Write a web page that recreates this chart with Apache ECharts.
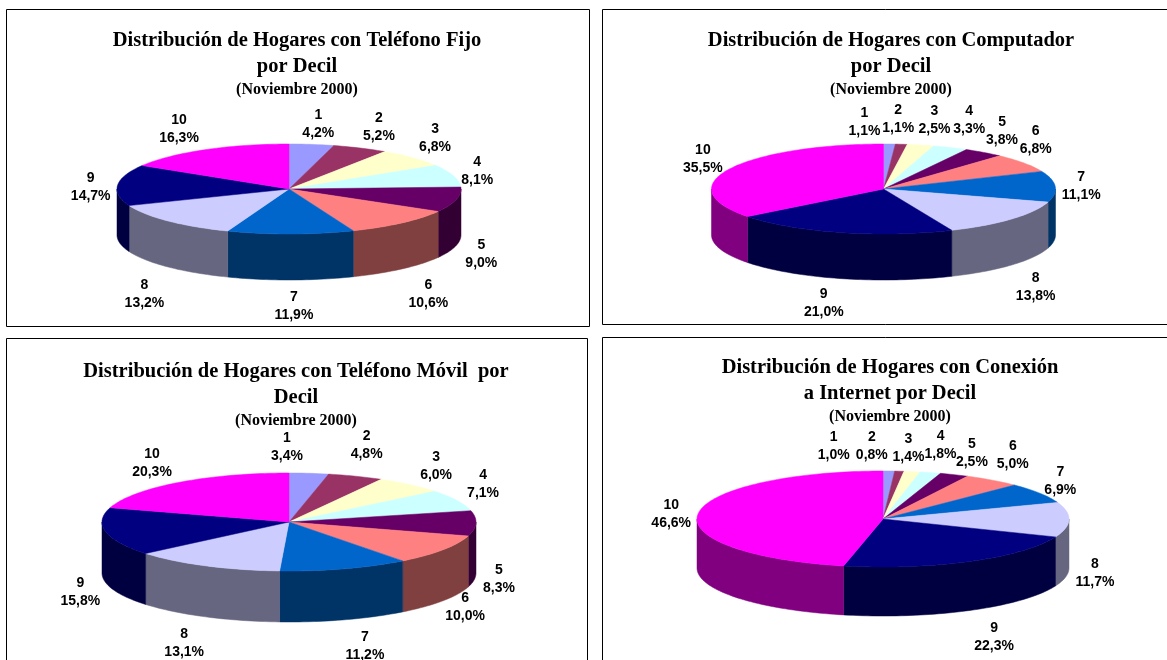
<!DOCTYPE html>
<html>
<head>
<meta charset="utf-8">
<title>Distribución de Hogares por Decil</title>
<script src="https://cdn.jsdelivr.net/npm/echarts@6/dist/echarts.min.js"></script>
<style>
  html, body { margin: 0; padding: 0; background: #fff; }
  #chart { width: 1167px; height: 660px; }
</style>
</head>
<body>
<div id="chart"></div>
<script>
const deciles = ['1', '2', '3', '4', '5', '6', '7', '8', '9', '10'];

const telefonoFijo = [4.2, 5.2, 6.8, 8.1, 9.0, 10.6, 11.9, 13.2, 14.7, 16.3];
const computador = [1.1, 1.1, 2.5, 3.3, 3.8, 6.8, 11.1, 13.8, 21.0, 35.5];
const telefonoMovil = [3.4, 4.8, 6.0, 7.1, 8.3, 10.0, 11.2, 13.1, 15.8, 20.3];
const internet = [1.0, 0.8, 1.4, 1.8, 2.5, 5.0, 6.9, 11.7, 22.3, 46.6];

const topColors = ['#9999FF', '#993366', '#FFFFCC', '#CCFFFF', '#660066', '#FF8080', '#0066CC', '#CCCCFF', '#000080', '#FF00FF'];
const sideColors = ['#4C4C80', '#4C1933', '#808066', '#668080', '#330033', '#804040', '#003366', '#666680', '#000040', '#800080'];

const subtitle = '(Noviembre 2000)';

// box = panel frame, pie = centre / radii / wall height, nudge = hand placement of labels
const panels = [
  {
    title: 'Distribución de Hogares con Teléfono Fijo\npor Decil',
    values: telefonoFijo,
    box: [6.5, 9.5, 583, 317],
    titleAt: [297, 28],
    pie: { cx: 289, cy: 189, rx: 172, ry: 45, depth: 46 },
    nudge: [[3, 9], [7, 6], [2, 1], [-3, 4], [-2, 1], [8, 3], [3, -4], [-4, 6], [1, 4], [-12, 6]]
  },
  {
    title: 'Distribución de Hogares con Computador\npor Decil',
    values: computador,
    box: [602.5, 9.5, 570, 315],
    titleAt: [891, 28],
    pie: { cx: 883.5, cy: 189, rx: 172, ry: 45, depth: 46 },
    nudge: [[-26, 8], [-6, 5], [8, 4], [8, 0], [2, 3], [-11, -6], [-2, 1], [3, 2], [-10, -5], [-1, 3]]
  },
  {
    title: 'Distribución de Hogares con Teléfono Móvil  por\nDecil',
    values: telefonoMovil,
    box: [6.5, 338.5, 581, 340],
    titleAt: [296, 359],
    pie: { cx: 289, cy: 522, rx: 187, ry: 49, depth: 51 },
    nudge: [[-25, 4], [1, -3], [8, 4], [1, -3], [-5, 4], [-1, -11], [12, -2], [-9, -1], [2, 3], [-9, 5]]
  },
  {
    title: 'Distribución de Hogares con Conexión\na Internet por Decil',
    values: internet,
    box: [602.5, 337.5, 570, 340],
    titleAt: [890, 355],
    pie: { cx: 883, cy: 519, rx: 186, ry: 48, depth: 49 },
    nudge: [[-56, 5], [-30, 5], [-8, 6], [3, 2], [7, 6], [4, -1], [-3, 4], [-2, 4], [11, 0], [1, 3]]
  }
];

function rimPoint(pie, deg, drop) {
  const a = deg * Math.PI / 180;
  return [pie.cx + pie.rx * Math.sin(a), pie.cy - pie.ry * Math.cos(a) + (drop || 0)];
}

function arcPoints(pie, from, to, drop) {
  const pts = [];
  const steps = Math.max(2, Math.ceil((to - from) / 1.5));
  for (let i = 0; i <= steps; i++) {
    pts.push(rimPoint(pie, from + (to - from) * i / steps, drop));
  }
  return pts;
}

function pieSeries(panel) {
  const pie = panel.pie;
  const total = panel.values.reduce((s, v) => s + v, 0);
  let run = 0;
  const starts = panel.values.map(v => {
    const s = run;
    run += v;
    return s;
  });

  return {
    type: 'custom',
    coordinateSystem: 'none',
    silent: true,
    animation: false,
    data: panel.values.map((v, i) => ({ name: deciles[i], value: [v, starts[i]] })),
    renderItem(params, api) {
      const i = params.dataIndex;
      const from = api.value(1) / total * 360;
      const to = from + api.value(0) / total * 360;
      const mid = (from + to) / 2;
      const children = [];

      // only the front half of the rim shows a wall
      const wallFrom = Math.max(from, 90);
      const wallTo = Math.min(to, 270);
      if (wallTo > wallFrom) {
        const upper = arcPoints(pie, wallFrom, wallTo, 0);
        const lower = arcPoints(pie, wallFrom, wallTo, pie.depth).reverse();
        children.push({
          type: 'polygon',
          z2: 1,
          shape: { points: upper.concat(lower) },
          style: { fill: sideColors[i], stroke: sideColors[i], lineWidth: 0.5 }
        });
      }

      children.push({
        type: 'polygon',
        z2: 2,
        shape: { points: [[pie.cx, pie.cy]].concat(arcPoints(pie, from, to, 0)) },
        style: { fill: topColors[i], stroke: topColors[i], lineWidth: 0.5 }
      });

      const a = mid * Math.PI / 180;
      const below = Math.cos(a) < 0 ? pie.depth : 0;
      children.push({
        type: 'text',
        z2: 3,
        style: {
          text: deciles[i] + '\n' + api.value(0).toFixed(1).replace('.', ',') + '%',
          x: pie.cx + (pie.rx + 28) * Math.sin(a) + panel.nudge[i][0],
          y: pie.cy - (pie.ry + 30) * Math.cos(a) + below + panel.nudge[i][1],
          align: 'center',
          verticalAlign: 'middle',
          fontFamily: '"Liberation Sans", Arial, sans-serif',
          fontWeight: 'bold',
          fontSize: 14,
          lineHeight: 18,
          fill: '#000'
        }
      });

      return { type: 'group', children };
    }
  };
}

const chart = echarts.init(document.getElementById('chart'));
chart.setOption({
  animation: false,
  backgroundColor: '#fff',
  title: panels.map(p => ({
    text: p.title,
    subtext: subtitle,
    left: p.titleAt[0],
    top: p.titleAt[1],
    textAlign: 'center',
    padding: 0,
    itemGap: 2,
    textStyle: {
      fontFamily: '"Liberation Serif", "Times New Roman", serif',
      fontWeight: 'bold',
      fontSize: 20.5,
      lineHeight: 26,
      color: '#000'
    },
    subtextStyle: {
      fontFamily: '"Liberation Serif", "Times New Roman", serif',
      fontWeight: 'bold',
      fontSize: 16,
      lineHeight: 16,
      color: '#000'
    }
  })),
  graphic: panels.map(p => ({
    type: 'rect',
    silent: true,
    shape: { x: p.box[0], y: p.box[1], width: p.box[2], height: p.box[3] },
    style: { fill: 'none', stroke: '#000', lineWidth: 1 }
  })),
  series: panels.map(pieSeries)
});
window.addEventListener('resize', () => chart.resize());
</script>
</body>
</html>
